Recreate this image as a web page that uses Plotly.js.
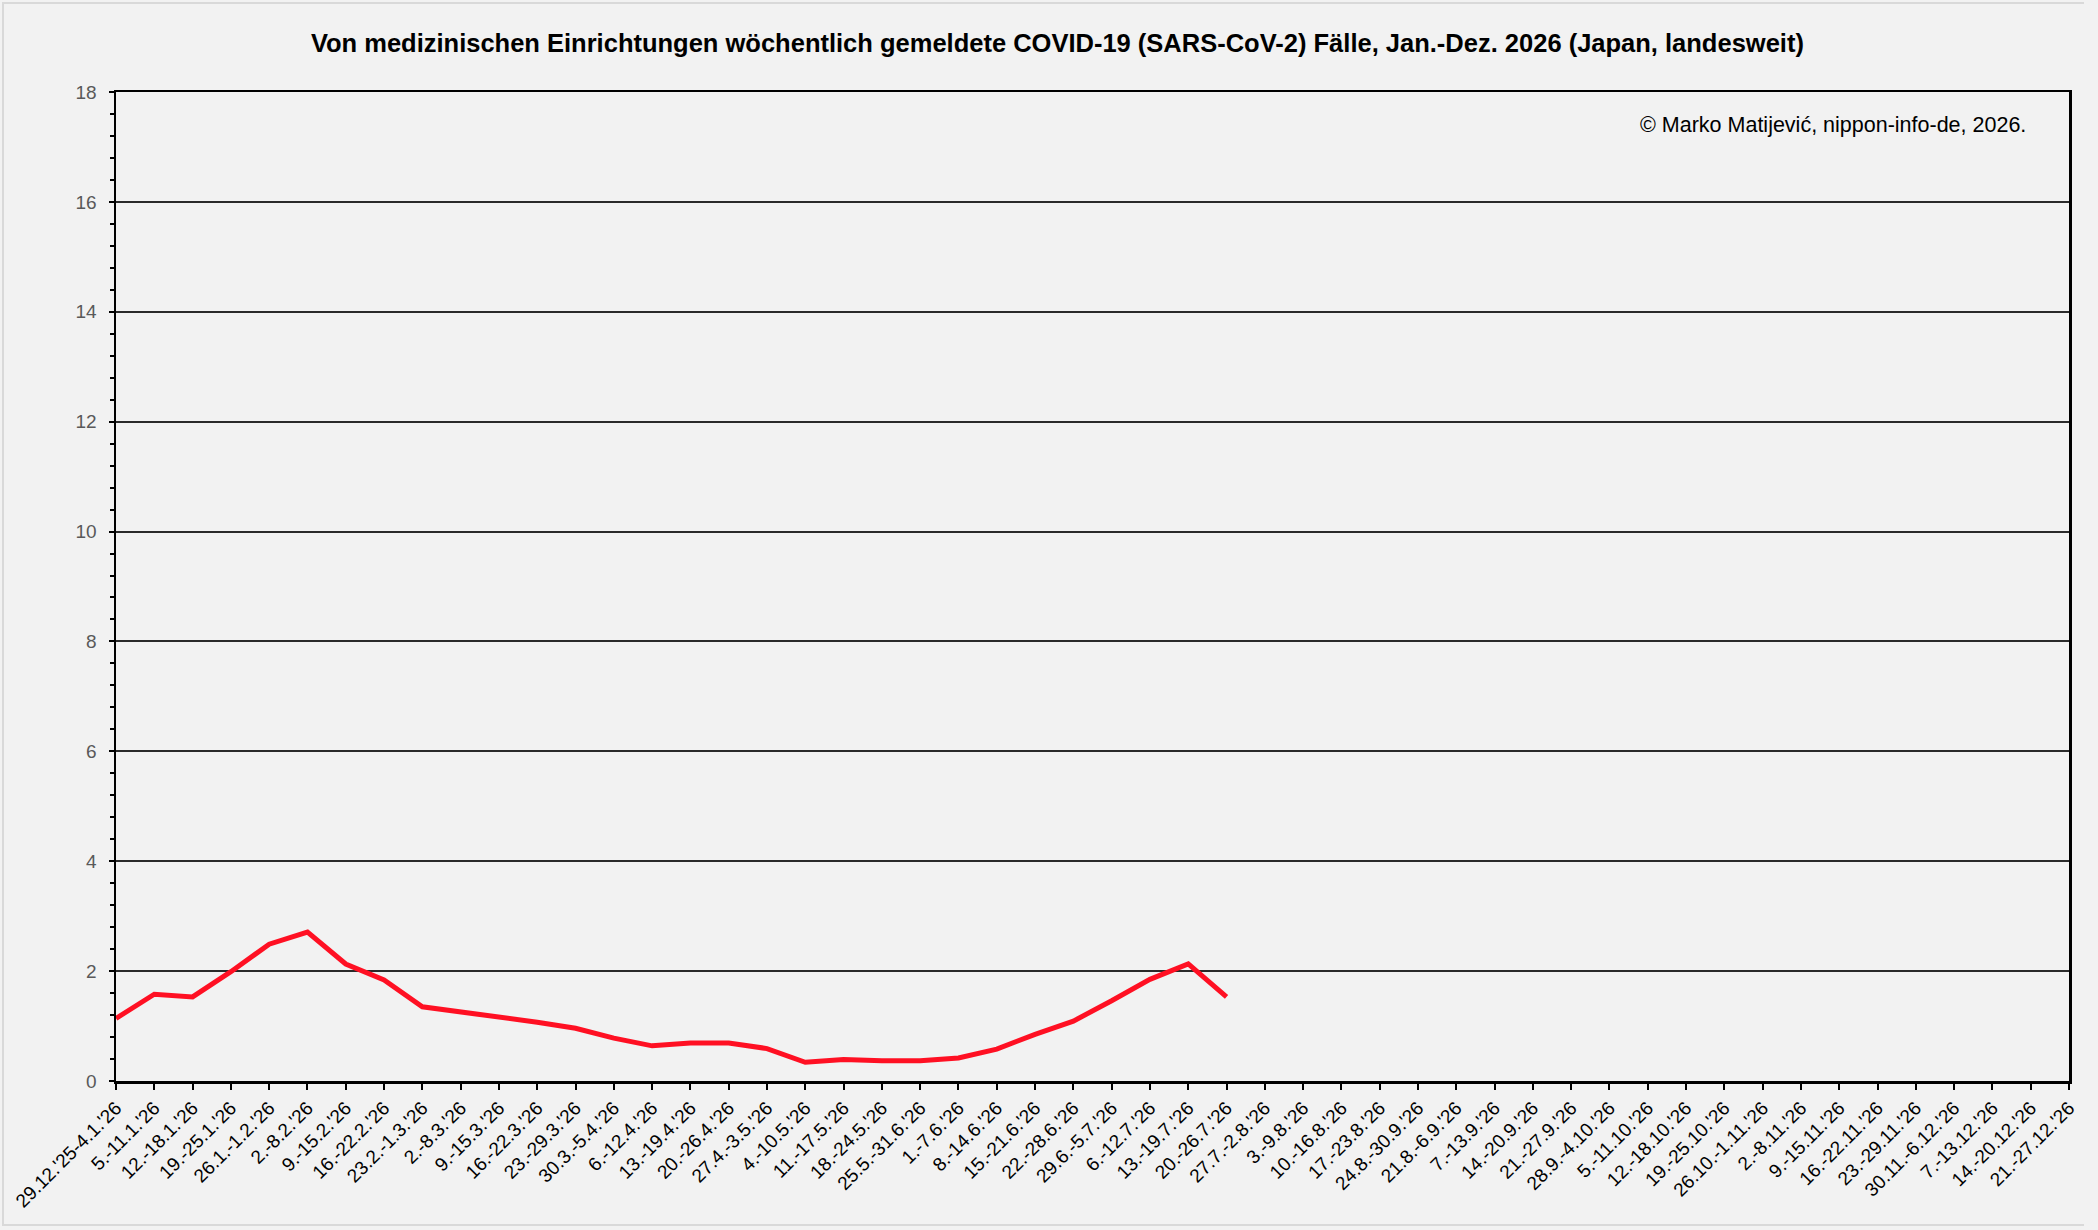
<!DOCTYPE html>
<html>
<head>
<meta charset="utf-8">
<script src="https://cdn.plot.ly/plotly-3.0.1.min.js"></script>
<style>
  html, body { margin: 0; padding: 0; background: #f2f2f2; }
  #chart { width: 2098px; height: 1230px; }
  #frame { position: absolute; left: 2px; top: 2px; width: 2082px; height: 1224px;
           border-left: 2px solid #d9d9d9; border-top: 2px solid #d9d9d9; border-bottom: 2px solid #d9d9d9;
           pointer-events: none; box-sizing: border-box; }
</style>
</head>
<body>
<div id="chart"></div>
<div id="frame"></div>
<script>
// weekly periods (Mon-Sun), labels as printed in the source chart
var weeks = [
    "29.12.'25-4.1.'26", "5.-11.1.'26", "12.-18.1.'26", "19.-25.1.'26", "26.1.-1.2.'26",
    "2.-8.2.'26", "9.-15.2.'26", "16.-22.2.'26", "23.2.-1.3.'26", "2.-8.3.'26",
    "9.-15.3.'26", "16.-22.3.'26", "23.-29.3.'26", "30.3.-5.4.'26", "6.-12.4.'26",
    "13.-19.4.'26", "20.-26.4.'26", "27.4.-3.5.'26", "4.-10.5.'26", "11.-17.5.'26",
    "18.-24.5.'26", "25.5.-31.6.'26", "1.-7.6.'26", "8.-14.6.'26", "15.-21.6.'26",
    "22.-28.6.'26", "29.6.-5.7.'26", "6.-12.7.'26", "13.-19.7.'26", "20.-26.7.'26",
    "27.7.-2.8.'26", "3.-9.8.'26", "10.-16.8.'26", "17.-23.8.'26", "24.8.-30.9.'26",
    "21.8.-6.9.'26", "7.-13.9.'26", "14.-20.9.'26", "21.-27.9.'26", "28.9.-4.10.'26",
    "5.-11.10.'26", "12.-18.10.'26", "19.-25.10.'26", "26.10.-1.11.'26", "2.-8.11.'26",
    "9.-15.11.'26", "16.-22.11.'26", "23.-29.11.'26", "30.11.-6.12.'26", "7.-13.12.'26",
    "14.-20.12.'26", "21.-27.12.'26"
];

// cases per medical institution, reported weeks so far
var cases = [
    1.14, 1.58, 1.53, 1.99, 2.49, 2.71, 2.13, 1.84, 1.35, 1.26,
    1.17, 1.07, 0.96, 0.78, 0.64, 0.69, 0.69, 0.59, 0.34, 0.39,
    0.37, 0.37, 0.42, 0.58, 0.85, 1.09, 1.46, 1.85, 2.13, 1.53
];

var yTicks = [0, 2, 4, 6, 8, 10, 12, 14, 16, 18];

var data = [{
    x: weeks.slice(0, cases.length),
    y: cases,
    type: 'scatter',
    mode: 'lines',
    line: {color: 'rgb(255,16,35)', width: 5},
    hoverinfo: 'x+y'
}];

var font = "'Liberation Sans', Arial, sans-serif";

var layout = {
    width: 2098,
    height: 1230,
    paper_bgcolor: '#f2f2f2',
    plot_bgcolor: '#f2f2f2',
    showlegend: false,
    margin: {l: 116, r: 29, t: 92, b: 149},
    font: {family: font, color: '#000'},
    title: {
        text: '<b>Von medizinischen Einrichtungen wöchentlich gemeldete COVID-19 (SARS-CoV-2) Fälle, Jan.-Dez. 2026 (Japan, landesweit)</b>',
        font: {family: font, size: 25.5, color: '#000'},
        x: 0.504, xref: 'container',
        y: 0.965, yref: 'container', yanchor: 'middle'
    },
    xaxis: {
        type: 'category',
        categoryorder: 'array',
        categoryarray: weeks,
        tickmode: 'array',
        tickvals: weeks,
        ticktext: weeks,
        range: [0, weeks.length - 1],
        tickangle: -45,
        tickfont: {size: 19, color: '#000'},
        ticks: 'outside', ticklen: 6, tickwidth: 2, tickcolor: '#000',
        showline: true, linecolor: '#000', linewidth: 2.5, mirror: true,
        showgrid: false, zeroline: false, fixedrange: true
    },
    yaxis: {
        range: [0, 18],
        tickmode: 'array',
        tickvals: yTicks,
        tickfont: {size: 19, color: '#595959'},
        ticks: 'outside', ticklen: 5, tickwidth: 2, tickcolor: '#000',
        ticklabelstandoff: 8,
        minor: {dtick: 0.4, ticks: 'outside', ticklen: 4, tickwidth: 2, tickcolor: '#000', showgrid: false},
        showline: true, linecolor: '#000', linewidth: 2.5, mirror: true,
        showgrid: true, gridcolor: '#2a2a2a', gridwidth: 2,
        zeroline: false, fixedrange: true
    },
    // overlay axes only add the inner half of the crossing tick marks
    xaxis2: {
        overlaying: 'x', anchor: 'y', type: 'linear',
        range: [0, weeks.length - 1], tick0: 0, dtick: 1,
        ticks: 'inside', ticklen: 6, tickwidth: 2, tickcolor: '#000',
        showticklabels: false, showline: false, showgrid: false, zeroline: false
    },
    yaxis2: {
        overlaying: 'y', anchor: 'x', side: 'left',
        range: [0, 18], tick0: 0, dtick: 2,
        ticks: 'inside', ticklen: 5, tickwidth: 2, tickcolor: '#000',
        minor: {dtick: 0.4, ticks: 'inside', ticklen: 4, tickwidth: 2, tickcolor: '#000', showgrid: false},
        showticklabels: false, showline: false, showgrid: false, zeroline: false
    },
    annotations: [{
        text: '© Marko Matijević, nippon-info-de, 2026.',
        xref: 'paper', yref: 'paper',
        x: 0.979, y: 0.9666, xanchor: 'right', yanchor: 'middle',
        showarrow: false,
        font: {family: font, size: 21.5, color: '#000'}
    }]
};

Plotly.newPlot('chart', data, layout, {staticPlot: true});
</script>
</body>
</html>
